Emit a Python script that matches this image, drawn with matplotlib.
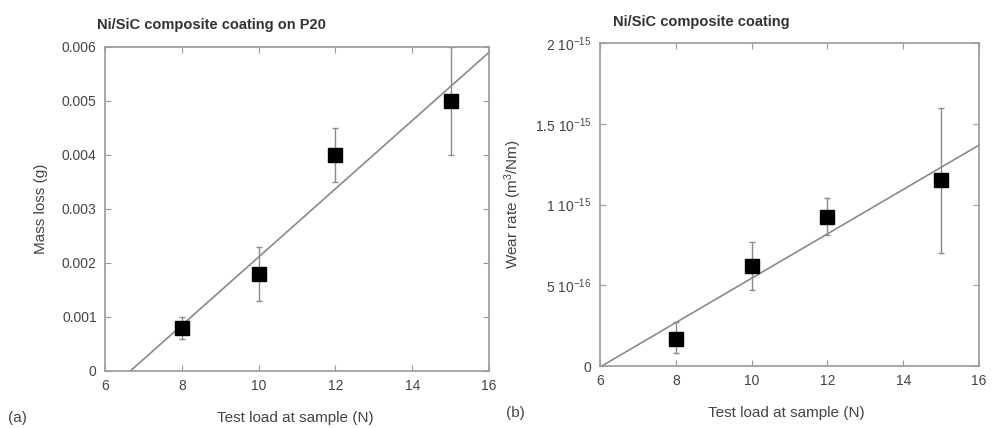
import numpy as np
import matplotlib
matplotlib.use("Agg")
import matplotlib.pyplot as plt
from matplotlib.ticker import FixedLocator, FixedFormatter

plt.rcParams['font.family'] = ['Liberation Sans', 'DejaVu Sans']
plt.rcParams['mathtext.fontset'] = 'custom'
plt.rcParams['mathtext.rm'] = 'Liberation Sans'
plt.rcParams['mathtext.it'] = 'Liberation Sans:italic'
plt.rcParams['mathtext.bf'] = 'Liberation Sans:bold'

# data
load = [8, 10, 12, 15]
mass_loss = [0.0008, 0.0018, 0.0040, 0.0050]
mass_lo = [0.0006, 0.0013, 0.0035, 0.0040]
mass_hi = [0.0010, 0.0023, 0.0045, 0.0060]

wear = [1.7e-16, 6.2e-16, 9.2e-16, 1.15e-15]
wear_lo = [0.8e-16, 4.7e-16, 8.1e-16, 0.7e-15]
wear_hi = [2.7e-16, 7.7e-16, 10.4e-16, 1.6e-15]

x_ticks = [6, 8, 10, 12, 14, 16]
mass_ticks = [0, 0.001, 0.002, 0.003, 0.004, 0.005, 0.006]
mass_labels = ["0", "0.001", "0.002", "0.003", "0.004", "0.005", "0.006"]
wear_ticks = [0, 5e-16, 1e-15, 1.5e-15, 2e-15]
wear_labels = ["0", r"5 10$^{\mathrm{-16}}$", r"1 10$^{\mathrm{-15}}$",
               r"1.5 10$^{\mathrm{-15}}$", r"2 10$^{\mathrm{-15}}$"]

TXT = "#444444"
FRAME = "#9a9a9a"
LINE = "#8a8a8a"

fig = plt.figure(figsize=(9.92, 4.28), dpi=100)
ax1 = fig.add_axes([105 / 992, 1 - 371 / 428, 384 / 992, 324 / 428])
ax2 = fig.add_axes([600 / 992, 1 - 366 / 428, 379 / 992, 323 / 428])


def draw(ax, y, lo, hi, yticks, ylabels, ymax):
    yerr = [np.array(y) - np.array(lo), np.array(hi) - np.array(y)]
    ax.errorbar(load, y, yerr=yerr, fmt="none", ecolor=LINE, elinewidth=1,
                capsize=2.5, capthick=1, zorder=2)
    k, b = np.polyfit(load, y, 1)
    xs = np.array([6, 16])
    ax.plot(xs, k * xs + b, color=LINE, lw=1.2, zorder=1)
    ax.plot(load, y, "s", color="black", ms=10.5, zorder=3)
    ax.set_xlim(6, 16)
    ax.set_ylim(0, ymax)
    ax.xaxis.set_major_locator(FixedLocator(x_ticks))
    ax.yaxis.set_major_locator(FixedLocator(yticks))
    ax.yaxis.set_major_formatter(FixedFormatter(ylabels))
    ax.tick_params(direction="in", top=True, right=True, length=4,
                   color=FRAME, labelcolor=TXT, labelsize=10, pad=6)
    for s in ax.spines.values():
        s.set_color(FRAME)
        s.set_linewidth(1.2)


draw(ax1, mass_loss, mass_lo, mass_hi, mass_ticks, mass_labels, 0.006)
draw(ax2, wear, wear_lo, wear_hi, wear_ticks, wear_labels, 2e-15)

ax1.set_ylabel("Mass loss (g)", color=TXT, fontsize=11, labelpad=10)
ax2.set_ylabel(r"Wear rate (m$^3$/Nm)", color=TXT, fontsize=11, labelpad=8)

fig.text(295 / 992, 1 - 418 / 428, "Test load at sample (N)", ha="center",
         va="center", color=TXT, fontsize=11)
fig.text(786 / 992, 1 - 413 / 428, "Test load at sample (N)", ha="center",
         va="center", color=TXT, fontsize=11)
fig.text(8 / 992, 1 - 418 / 428, "(a)", ha="left", va="center", color=TXT, fontsize=11)
fig.text(506 / 992, 1 - 413 / 428, "(b)", ha="left", va="center", color=TXT, fontsize=11)

fig.text(97 / 992, 1 - 25 / 428, "Ni/SiC composite coating on P20", ha="left",
         va="center", color="#333333", fontsize=10.5, fontweight="bold")
fig.text(613 / 992, 1 - 22 / 428, "Ni/SiC composite coating", ha="left",
         va="center", color="#333333", fontsize=10.5, fontweight="bold")

fig.savefig("out.png", dpi=100)
